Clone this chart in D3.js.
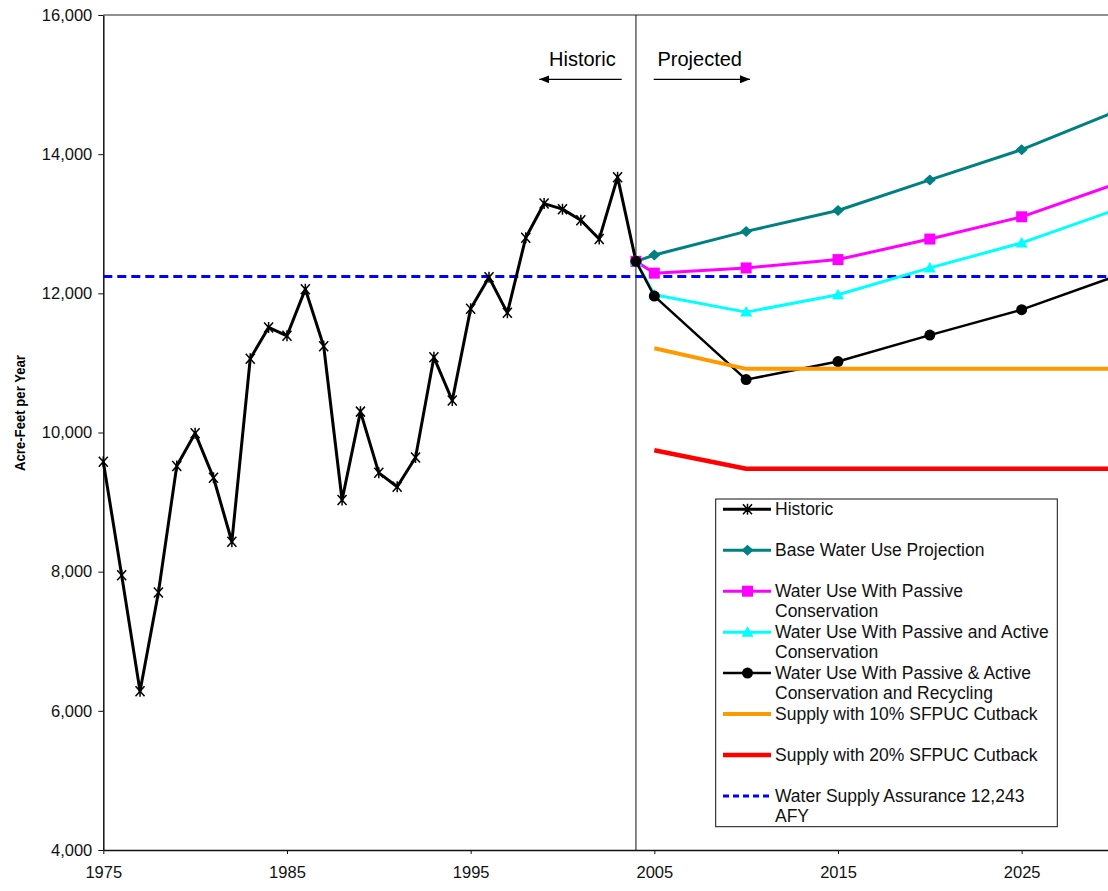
<!DOCTYPE html>
<html>
<head>
<meta charset="utf-8">
<script src="https://cdn.jsdelivr.net/npm/d3@7"></script>
<style>
  body { margin: 0; background: #fff; }
  svg { display: block; font-family: Arial, "Liberation Sans", sans-serif; }
</style>
</head>
<body>
<svg id="chart" width="1108" height="891"></svg>
<script>
// historic use, one value per year
const historicYears = [1975, 1976, 1977, 1978, 1979, 1980, 1981, 1982, 1983, 1984,
  1985, 1986, 1987, 1988, 1989, 1990, 1991, 1992, 1993, 1994,
  1995, 1996, 1997, 1998, 1999, 2000, 2001, 2002, 2003, 2004];
const historic = [9580, 7950, 6280, 7700, 9520, 9990, 9350, 8430, 11060, 11510,
  11390, 12060, 11240, 9030, 10300, 9420, 9220, 9640, 11080, 10460,
  11780, 12230, 11720, 12800, 13290, 13210, 13050, 12780, 13670, 12460];

// projections start from the 2004 value
const projYears = [2004, 2005, 2010, 2015, 2020, 2025, 2030];
const baseUse = [12460, 12550, 12890, 13190, 13630, 14065, 14600];
const passiveUse = [12460, 12290, 12365, 12485, 12780, 13100, 13560];
const activeUse = [12460, 11980, 11730, 11980, 12365, 12725, 13190];
const recyclingUse = [12460, 11960, 10760, 11020, 11400, 11765, 12235];

const supplyYears = [2005, 2010, 2015, 2020, 2025, 2030];
const cutback10 = [11210, 10915, 10915, 10915, 10915, 10915];
const cutback20 = [9745, 9480, 9480, 9480, 9480, 9480];

const assurance = 12243;

const yTicks = [4000, 6000, 8000, 10000, 12000, 14000, 16000];
const xTicks = [1975, 1985, 1995, 2005, 2015, 2025];

const svg = d3.select("#chart");
const x = d3.scaleLinear().domain([1975, 2030]).range([103.3, 1113.5]);
const y = d3.scaleLinear().domain([4000, 16000]).range([850, 15]);

// top frame line
svg.append("line")
  .attr("x1", x(1975)).attr("x2", 1108)
  .attr("y1", y(16000)).attr("y2", y(16000))
  .attr("stroke", "#222").attr("stroke-width", 1);

// y axis
const yAxis = svg.append("g")
  .attr("transform", `translate(${x(1975)},0)`)
  .call(d3.axisLeft(y).tickValues(yTicks).tickFormat(d3.format(",")).tickSize(5).tickSizeOuter(0).tickPadding(6));

// x axis
const xAxis = svg.append("g")
  .attr("transform", `translate(0,${y(4000)})`)
  .call(d3.axisBottom(x).tickValues(xTicks).tickFormat(d3.format("d")).tickSize(4).tickSizeOuter(0).tickPadding(12));

[yAxis, xAxis].forEach(a => {
  a.select(".domain").attr("stroke", "#111").attr("stroke-width", 1.5);
  a.selectAll(".tick line").attr("stroke", "#111");
  a.selectAll(".tick text").attr("fill", "#111").style("font-size", "16.5px");
});

svg.append("text")
  .attr("transform", `translate(24.5,413) rotate(-90)`)
  .attr("text-anchor", "middle")
  .attr("textLength", 116)
  .attr("lengthAdjust", "spacingAndGlyphs")
  .style("font-size", "15.5px")
  .style("font-weight", "bold")
  .text("Acre-Feet per Year");

// historic / projected divider
svg.append("line")
  .attr("x1", x(2004)).attr("x2", x(2004))
  .attr("y1", y(16000)).attr("y2", y(4000))
  .attr("stroke", "#111").attr("stroke-width", 1);

svg.append("defs").append("marker")
  .attr("id", "arrow")
  .attr("viewBox", "0 0 10 8")
  .attr("refX", 10).attr("refY", 4)
  .attr("markerWidth", 10).attr("markerHeight", 8)
  .attr("markerUnits", "userSpaceOnUse")
  .attr("orient", "auto")
  .append("path").attr("d", "M0,0L10,4L0,8Z").attr("fill", "#000");

svg.append("line")
  .attr("x1", 621.7).attr("x2", 539.3).attr("y1", 79.3).attr("y2", 79.3)
  .attr("stroke", "#000").attr("stroke-width", 1.2).attr("marker-end", "url(#arrow)");
svg.append("line")
  .attr("x1", 653.7).attr("x2", 750).attr("y1", 79.3).attr("y2", 79.3)
  .attr("stroke", "#000").attr("stroke-width", 1.2).attr("marker-end", "url(#arrow)");
svg.append("text").attr("x", 549).attr("y", 66).style("font-size", "20px").text("Historic");
svg.append("text").attr("x", 657.5).attr("y", 66).style("font-size", "20px").text("Projected");

// assurance dashed line
svg.append("line")
  .attr("x1", x(1975)).attr("x2", 1108)
  .attr("y1", y(assurance)).attr("y2", y(assurance))
  .attr("stroke", "#0000FF").attr("stroke-width", 3).attr("stroke-dasharray", "9,5");

const line = d3.line().x(d => x(d[0])).y(d => y(d[1]));

const markerPaths = {
  star: "M-4.5,-5L4.5,5M-4.5,5L4.5,-5M0,-5.5L0,5.5",
  diamond: "M0,-5.5L6,0L0,5.5L-6,0Z",
  square: "M-5.5,-5.5H5.5V5.5H-5.5Z",
  triangle: "M0,-6L6,4.5H-6Z",
  circle: d3.symbol().type(d3.symbolCircle).size(Math.PI * 5.5 * 5.5)()
};

const series = [
  { name: ["Historic"], years: historicYears, values: historic, color: "#000", width: 3, marker: "star" },
  { name: ["Base Water Use Projection"], years: projYears, values: baseUse, color: "#008080", width: 3, marker: "diamond" },
  { name: ["Water Use With Passive", "Conservation"], years: projYears, values: passiveUse, color: "#FF00FF", width: 3, marker: "square" },
  { name: ["Water Use With Passive and Active", "Conservation"], years: projYears, values: activeUse, color: "#00FFFF", width: 3, marker: "triangle" },
  { name: ["Water Use With Passive & Active", "Conservation and Recycling"], years: projYears, values: recyclingUse, color: "#000", width: 2.5, marker: "circle" },
  { name: ["Supply with 10% SFPUC Cutback"], years: supplyYears, values: cutback10, color: "#FF9900", width: 4, marker: null },
  { name: ["Supply with 20% SFPUC Cutback"], years: supplyYears, values: cutback20, color: "#FF0000", width: 4.5, marker: null }
];

function drawMarker(g, type, color, cx, cy) {
  const p = g.append("path")
    .attr("d", markerPaths[type])
    .attr("transform", `translate(${cx},${cy})`);
  if (type === "star") {
    p.attr("fill", "none").attr("stroke", color).attr("stroke-width", 1.5);
  } else {
    p.attr("fill", color).attr("stroke", "none");
  }
}

series.forEach(s => {
  const pts = s.years.map((yr, i) => [yr, s.values[i]]);
  const g = svg.append("g");
  g.append("path")
    .attr("d", line(pts))
    .attr("fill", "none")
    .attr("stroke", s.color)
    .attr("stroke-width", s.width)
    .attr("stroke-linejoin", "round");
  if (s.marker) {
    pts.forEach(p => drawMarker(g, s.marker, s.color, x(p[0]), y(p[1])));
  }
});

// legend
const legend = svg.append("g");
legend.append("rect")
  .attr("x", 715.7).attr("y", 499).attr("width", 341.6).attr("height", 327.7)
  .attr("fill", "#fff").attr("stroke", "#111").attr("stroke-width", 1);

const legendItems = series.concat([
  { name: ["Water Supply Assurance 12,243", "AFY"], color: "#0000FF", width: 3, marker: null, dashed: true }
]);

legendItems.forEach((s, i) => {
  const ly = 509.3 + i * 40.95;
  legend.append("line")
    .attr("x1", 723).attr("x2", 771).attr("y1", ly).attr("y2", ly)
    .attr("stroke", s.color).attr("stroke-width", s.width)
    .attr("stroke-dasharray", s.dashed ? "6,4" : null);
  if (s.marker) drawMarker(legend, s.marker, s.color, 747.5, ly);
  s.name.forEach((t, j) => {
    legend.append("text")
      .attr("x", 775).attr("y", ly + 6 + j * 20)
      .style("font-size", "17.5px")
      .attr("fill", "#111")
      .text(t);
  });
});
</script>
</body>
</html>
